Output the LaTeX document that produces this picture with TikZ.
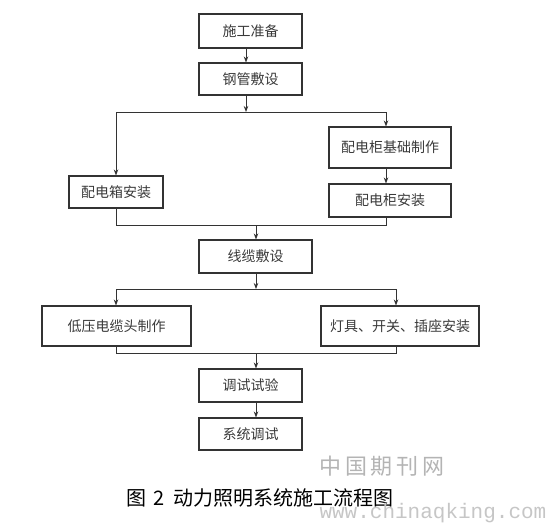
\documentclass[tikz,border=0pt]{standalone}
\usepackage{fontspec}
\newfontfamily\cjk{Noto Sans CJK SC}
\newfontfamily\wmono{Liberation Mono}
\usepackage{tikz}
\usetikzlibrary{positioning,arrows.meta,calc}
\usepackage{xcolor}
\definecolor{framec}{HTML}{333333}
\definecolor{textc}{HTML}{3A3A3A}
\definecolor{markc}{HTML}{B4B4B4}
\tikzset{
  stepbox/.style={draw=framec, line width=1.1pt, fill=white, inner sep=0pt,
              align=center, text=textc, font=\cjk\fontsize{14}{16}\selectfont},
  link/.style={draw=framec, line width=0.8pt},
  >={Stealth[length=6pt,width=4.5pt]},
}

\begin{document}
\begin{tikzpicture}[x=1pt, y=-1pt]
\useasboundingbox (0,0) rectangle (548,524);
\node[stepbox, minimum width=103pt, minimum height=34pt] (prep) at (250.5,31) {施工准备};
\node[stepbox, minimum width=103pt, minimum height=32pt] (pipe) at (250.5,79) {钢管敷设};
\node[stepbox, minimum width=94pt, minimum height=32pt] (dbox) at (116,192) {配电箱安装};
\node[stepbox, minimum width=122pt, minimum height=41pt] (base) at (390,147.5) {配电柜基础制作};
\node[stepbox, minimum width=122pt, minimum height=33pt] (cab) at (390,200.5) {配电柜安装};
\node[stepbox, minimum width=113pt, minimum height=33pt] (cable) at (255.5,256.5) {线缆敷设};
\node[stepbox, minimum width=149pt, minimum height=40pt] (head) at (116.5,326) {低压电缆头制作};
\node[stepbox, minimum width=158pt, minimum height=40pt] (lamp) at (400,326) {灯具、开关、插座安装};
\node[stepbox, minimum width=103pt, minimum height=33pt] (test) at (250.5,385.5) {调试试验};
\node[stepbox, minimum width=103pt, minimum height=32pt] (sys) at (250.5,434) {系统调试};

% branch and merge points
\coordinate (split1) at (246,112);
\coordinate (merge1) at (256,225);
\coordinate (split2) at (256,289);
\coordinate (merge2) at (256,353);

\draw[link,->] ([xshift=-4.5pt]prep.south) -- ([xshift=-4.5pt]pipe.north);
\draw[link,->] ([xshift=-4.5pt]pipe.south) -- (split1);
\draw[link,->] (split1) -| (dbox.north);
\draw[link,->] (split1) -| ([xshift=-4pt]base.north);
\draw[link,->] ([xshift=-4pt]base.south) -- ([xshift=-4pt]cab.north);
\draw[link] (dbox.south) |- (merge1);
\draw[link] ([xshift=-4pt]cab.south) |- (merge1);
\draw[link,->] (merge1) -- (merge1 |- cable.north);
\draw[link,->] (cable.south -| split2) -- (split2);
\draw[link,->] (split2) -| ([xshift=-0.5pt]head.north);
\draw[link,->] (split2) -| ([xshift=-4pt]lamp.north);
\draw[link] ([xshift=-0.5pt]head.south) |- (merge2);
\draw[link] ([xshift=-4pt]lamp.south) |- (merge2);
\draw[link,->] (merge2) -- (merge2 |- test.north);
\draw[link,->] (test.south -| merge2) -- (sys.north -| merge2);

\node[text=markc, font=\cjk\fontsize{22}{24}\selectfont] (mark) at (382,466) {中\,国\,期\,刊\,网};
\node[font=\cjk\fontsize{20}{22}\selectfont] (cap) at (260,498) {图\hspace{7pt}2\hspace{8pt}动力照明系统施工流程图};
\node[text=markc!110!black, font=\wmono\fontsize{21}{23}\selectfont, anchor=west] (url) at (316,513) {www.chinaqking.com};
\end{tikzpicture}
\end{document}
